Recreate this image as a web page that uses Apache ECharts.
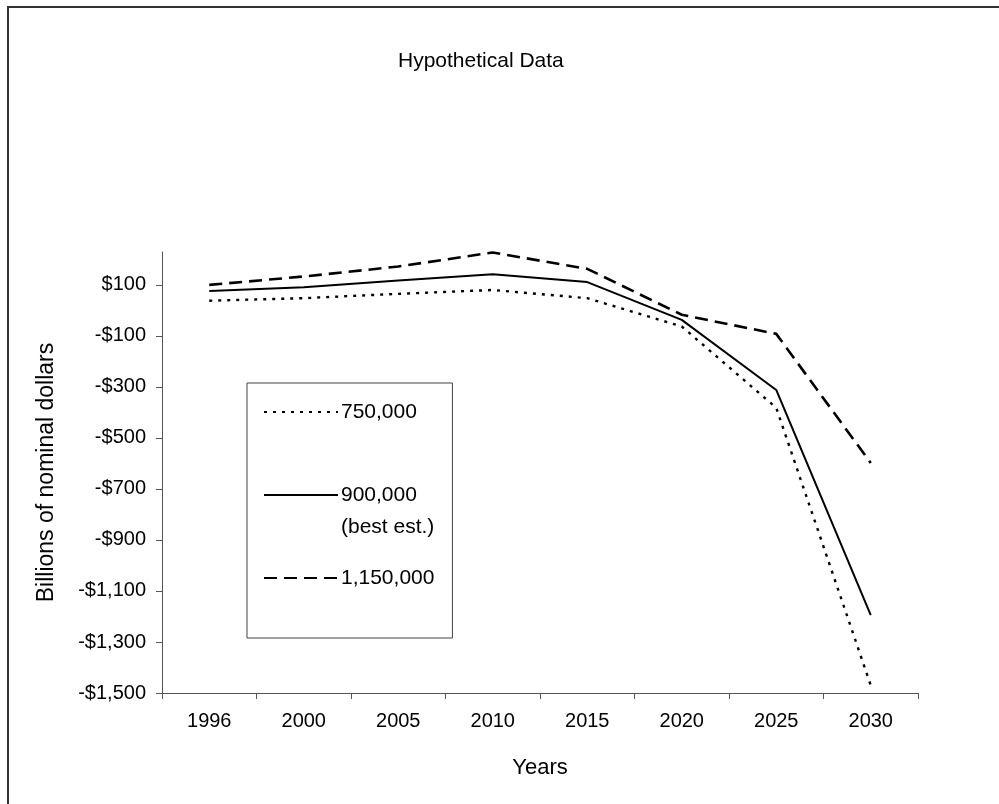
<!DOCTYPE html>
<html>
<head>
<meta charset="utf-8">
<script src="https://cdn.jsdelivr.net/npm/echarts@6/dist/echarts.min.js"></script>
<style>
  html, body { margin: 0; padding: 0; background: #fff; }
  #chart { width: 999px; height: 804px; }
</style>
</head>
<body>
<div id="chart"></div>
<script>
// Years on the category axis
const years = ['1996', '2000', '2005', '2010', '2015', '2020', '2025', '2030'];

// Billions of nominal dollars for each scenario
const low750k = [38, 48, 65, 80, 48, -63, -382, -1470];
const best900k = [76, 91, 117, 142, 111, -37, -312, -1195];
const high1150k = [100, 133, 172, 227, 163, -17, -92, -598];

// Labelled values on the vertical axis
const yTicks = [-1500, -1300, -1100, -900, -700, -500, -300, -100, 100];

const FONT = '"Liberation Sans", Arial, sans-serif';

function money(v) {
  const abs = Math.abs(v).toLocaleString('en-US');
  return (v < 0 ? '-$' : '$') + abs;
}

const chart = echarts.init(document.getElementById('chart'), null, { renderer: 'canvas' });

chart.setOption({
  animation: false,
  backgroundColor: '#ffffff',
  textStyle: { fontFamily: FONT, color: '#000' },
  title: {
    text: 'Hypothetical Data',
    left: 393,
    top: 46,
    textStyle: { fontFamily: FONT, fontSize: 21, fontWeight: 'normal', color: '#000' }
  },
  graphic: [
    { type: 'line', shape: { x1: 8, y1: 7, x2: 8, y2: 804 }, style: { stroke: '#333', lineWidth: 2 } },
    { type: 'line', shape: { x1: 7, y1: 7, x2: 999, y2: 7 }, style: { stroke: '#333', lineWidth: 2 } }
  ],
  grid: { left: 162, right: 81, top: 252, bottom: 111, containLabel: false },
  legend: {
    orient: 'vertical',
    left: 247,
    top: 383,
    padding: [13, 18, 44, 16],
    itemGap: 19,
    itemWidth: 74,
    itemHeight: 14,
    borderColor: '#444',
    borderWidth: 1,
    backgroundColor: '#fff',
    itemStyle: { opacity: 0 },
    textStyle: { fontFamily: FONT, fontSize: 21, color: '#000', lineHeight: 32, padding: [0, 0, 0, -2] },
    formatter: function (name) {
      return name === '900,000' ? ' \n900,000\n(best est.)' : name;
    },
    data: ['750,000', '900,000', '1,150,000']
  },
  xAxis: {
    type: 'category',
    data: years,
    boundaryGap: true,
    name: 'Years',
    nameLocation: 'middle',
    nameGap: 64,
    nameTextStyle: { fontFamily: FONT, fontSize: 22, color: '#000' },
    axisLine: { onZero: false, lineStyle: { color: '#555', width: 1 } },
    axisTick: { show: true, alignWithLabel: false, length: 6, lineStyle: { color: '#555' } },
    axisLabel: { fontFamily: FONT, fontSize: 20, color: '#000', margin: 18 },
    splitLine: { show: false }
  },
  yAxis: {
    type: 'value',
    min: -1500,
    max: 229,
    interval: 200,
    name: 'Billions of nominal dollars',
    nameLocation: 'middle',
    nameGap: 104,
    nameRotate: 90,
    nameTextStyle: { fontFamily: FONT, fontSize: 23, color: '#000' },
    axisLine: { show: true, lineStyle: { color: '#555', width: 1 } },
    axisTick: { show: true, length: 6, customValues: yTicks, lineStyle: { color: '#555' } },
    axisLabel: {
      fontFamily: FONT, fontSize: 20, color: '#000', margin: 16,
      customValues: yTicks,
      formatter: money
    },
    splitLine: { show: false }
  },
  series: [
    {
      name: '750,000',
      type: 'line',
      data: low750k,
      symbol: 'none',
      lineStyle: { color: '#000', width: 2.4, type: [3, 6] },
      itemStyle: { color: '#000' }
    },
    {
      name: '900,000',
      type: 'line',
      data: best900k,
      symbol: 'none',
      lineStyle: { color: '#000', width: 2, type: 'solid' },
      itemStyle: { color: '#000' }
    },
    {
      name: '1,150,000',
      type: 'line',
      data: high1150k,
      symbol: 'none',
      lineStyle: { color: '#000', width: 2.6, type: [13, 7] },
      itemStyle: { color: '#000' }
    }
  ]
});
</script>
</body>
</html>
